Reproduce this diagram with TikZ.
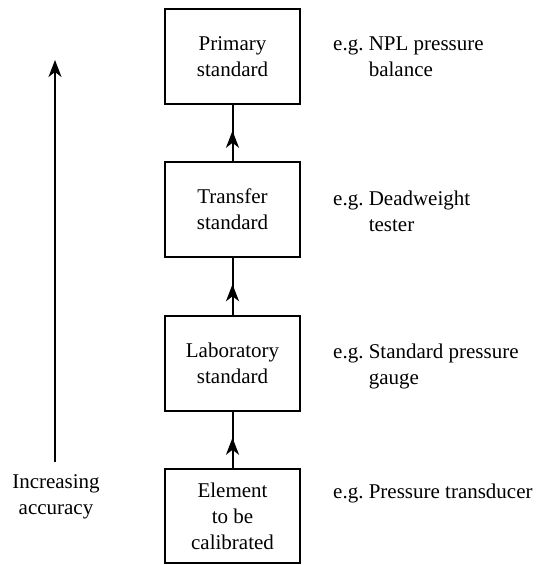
\documentclass[tikz,border=0pt]{standalone}
\usepackage{fontspec}
\setmainfont{Liberation Serif}
\usetikzlibrary{arrows.meta,decorations.markings,positioning}
\tikzset{myhead/.tip={Stealth[length=17pt,width=13pt,inset=5pt]}}
\begin{document}
\begin{tikzpicture}[x=1pt,y=-1pt,
  txt/.style={font=\fontsize{21}{26}\selectfont, inner sep=0pt},
  stdbox/.style={draw, line width=2.2pt, minimum width=135pt, minimum height=95pt,
    align=center, inner sep=0pt, font=\fontsize{21}{26}\selectfont},
  link/.style={line width=2pt, postaction={decorate},
    decoration={markings, mark=at position 0.54 with {\arrow{myhead}}}}
]
\useasboundingbox (0,0) rectangle (536,565);

\node[stdbox] (prim) at (232.5,56.5) {Primary\\standard};
\node[stdbox] (trans) at (232.5,209.5) {Transfer\\standard};
\node[stdbox] (lab) at (232.5,363.5) {Laboratory\\standard};
\node[stdbox, minimum height=94pt] (elem) at (232.5,516) {Element\\to be\\calibrated};

\draw[link] (elem.north) -- (lab.south);
\draw[link] (lab.north) -- (trans.south);
\draw[link] (trans.north) -- (prim.south);

\coordinate (abot) at (55,462);
\coordinate (atop) at (55,60);
\draw[-myhead, line width=2pt] (abot) -- (atop);
\node[txt, anchor=base] (acc) at (56,488) {\begin{tabular}[t]{@{}c@{}}Increasing\\accuracy\end{tabular}};

\node[txt, anchor=base west] (e1) at (333,50) {e.g.\ \begin{tabular}[t]{@{}l@{}}NPL pressure\\balance\end{tabular}};
\node[txt, anchor=base west] (e2) at (333,205) {e.g.\ \begin{tabular}[t]{@{}l@{}}Deadweight\\tester\end{tabular}};
\node[txt, anchor=base west] (e3) at (333,358) {e.g.\ \begin{tabular}[t]{@{}l@{}}Standard pressure\\gauge\end{tabular}};
\node[txt, anchor=base west] (e4) at (333,498) {e.g.\ Pressure transducer};
\end{tikzpicture}
\end{document}
